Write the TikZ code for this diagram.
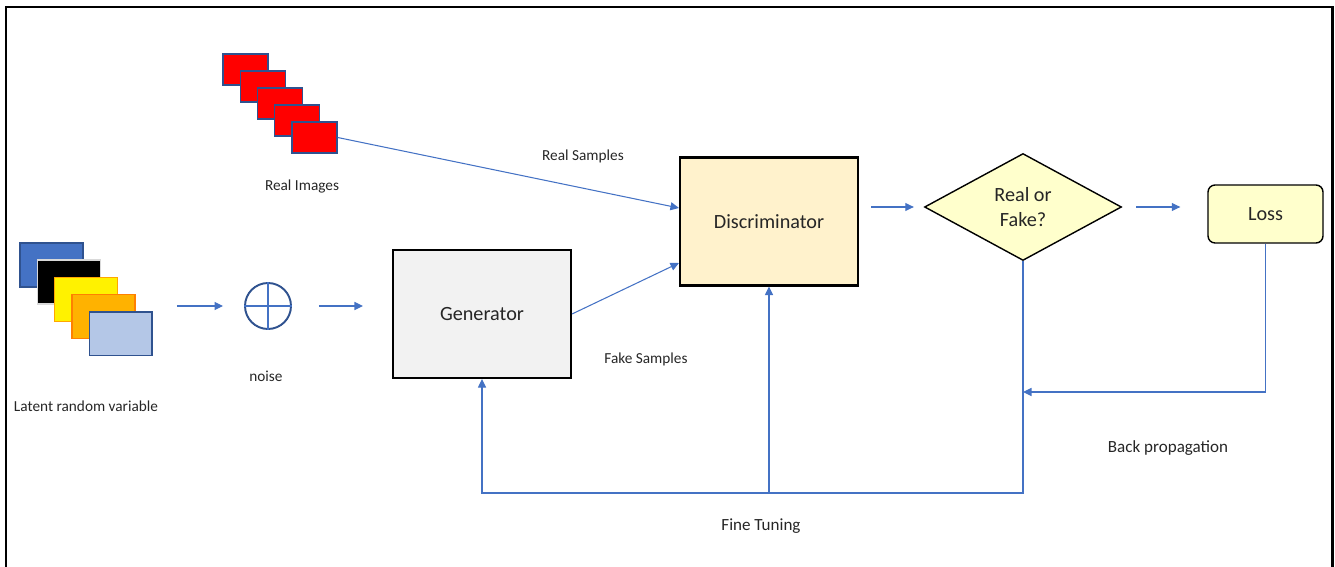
\documentclass[tikz,border=0pt]{standalone}
\usepackage{fontspec}
\setmainfont{Carlito}
\usepackage{tikz}
\usetikzlibrary{shapes.geometric,arrows.meta,positioning,calc}

\definecolor{linkblue}{HTML}{4472C4}
\definecolor{darkblue}{HTML}{2F528F}
\definecolor{genfill}{HTML}{F2F2F2}
\definecolor{discfill}{HTML}{FFF2CC}
\definecolor{decfill}{HTML}{FFFFCC}
\definecolor{txtgray}{HTML}{262626}

\begin{document}
\begin{tikzpicture}[
    x=0.02cm, y=-0.02cm,
    text=txtgray,
    lbl/.style={font=\fontsize{8.7}{10}\selectfont, inner sep=0pt},
    biglbl/.style={font=\fontsize{9.7}{11}\selectfont, inner sep=0pt},
    block/.style={draw=black, line width=1.2pt, minimum width=3.56cm, minimum height=2.56cm, align=center, font=\fontsize{11.5}{14}\selectfont},
    genbox/.style={block, fill=genfill},
    discbox/.style={block, fill=discfill},
    decision/.style={diamond, draw=black, line width=0.8pt, fill=decfill, aspect=1.8, inner sep=0pt, minimum width=3.94cm, minimum height=2.14cm, align=center, font=\fontsize{11.5}{14}\selectfont},
    lossbox/.style={draw=black, line width=0.8pt, fill=decfill, rounded corners=4pt, minimum width=2.3cm, minimum height=1.16cm, font=\fontsize{11.5}{14}\selectfont},
    img/.style={draw=darkblue, line width=0.8pt, fill=red, minimum width=0.9cm, minimum height=0.62cm, inner sep=0pt},
    lat/.style={line width=0.8pt, minimum width=1.26cm, minimum height=0.88cm, inner sep=0pt},
    arrow/.style={-{Triangle[length=1.7mm, width=1.6mm]}, draw=linkblue, line width=0.6pt}
]
\useasboundingbox (0,0) rectangle (1335,567);
% frame
\draw[line width=1.7pt] (6,567) -- (6,7) -- (1332,7) -- (1332,567);

% real images
\foreach \k in {1,...,5}
  \node[img] (r\k) at ({245.5+17.25*(\k-1)},{69.5+17*(\k-1)}) {};
\node[lbl] (realimg) at (302,187) {Real Images};

% latent random variable
\foreach \k/\fc/\dc in {1/linkblue/darkblue, 2/black/gray!30, 3/yellow/orange!70!yellow, 4/orange!60!yellow/orange, 5/linkblue!40/darkblue}
  \node[lat, fill=\fc, draw=\dc] (lat\k) at ({51.5+17.3*(\k-1)},{265+17.2*(\k-1)}) {};
\node[lbl] (latlbl) at (86,406) {Latent random variable};

% noise
\node[circle, draw=darkblue, line width=1.1pt, minimum size=0.92cm, inner sep=0pt] (noise) at (268,306) {};
\draw[linkblue, line width=0.6pt] (noise.north) -- (noise.south) (noise.west) -- (noise.east);
\node[lbl] (noiselbl) at (266,376) {noise};

% main blocks
\node[genbox] (gen) at (482,314) {Generator};
\node[discbox] (disc) at (769,221.5) {Discriminator};
\node[decision] (dec) at (1023,207) {Real or\\Fake?};
\node[lossbox] (loss) at (1265.5,214) {Loss};

\node[lbl] (reallbl) at (583,156) {Real Samples};
\node[lbl] (fakelbl) at (646,359) {Fake Samples};
\node[biglbl] (bplbl) at (1168,448) {Back propagation};
\node[biglbl] (ftlbl) at (761,526) {Fine Tuning};

\coordinate (bpy) at (0,392);
\coordinate (fty) at (0,493);

% connectors
\draw[arrow, shorten <=0.48cm, shorten >=0.42cm] (lat5.east |- noise.west) -- (noise.west);
\draw[arrow, shorten <=0.54cm, shorten >=0.58cm] (noise.east) -- (noise.east -| gen.west);
\draw[arrow] (r5.east) -- ([yshift=0.27cm]disc.west);
\draw[arrow] (gen.east) -- ([yshift=-0.83cm]disc.west);
\draw[arrow, shorten <=0.24cm, shorten >=0.2cm] (disc.east |- dec.west) -- (dec.west);
\draw[arrow, shorten <=0.28cm, shorten >=0.54cm] (dec.east) -- (dec.east -| loss.west);
\draw[arrow] (loss.south) |- (dec.south |- bpy);
\draw[arrow] (dec.south) -- (dec.south |- fty) -| (gen.south);
\draw[arrow] (disc.south |- fty) -- (disc.south);
\end{tikzpicture}
\end{document}
